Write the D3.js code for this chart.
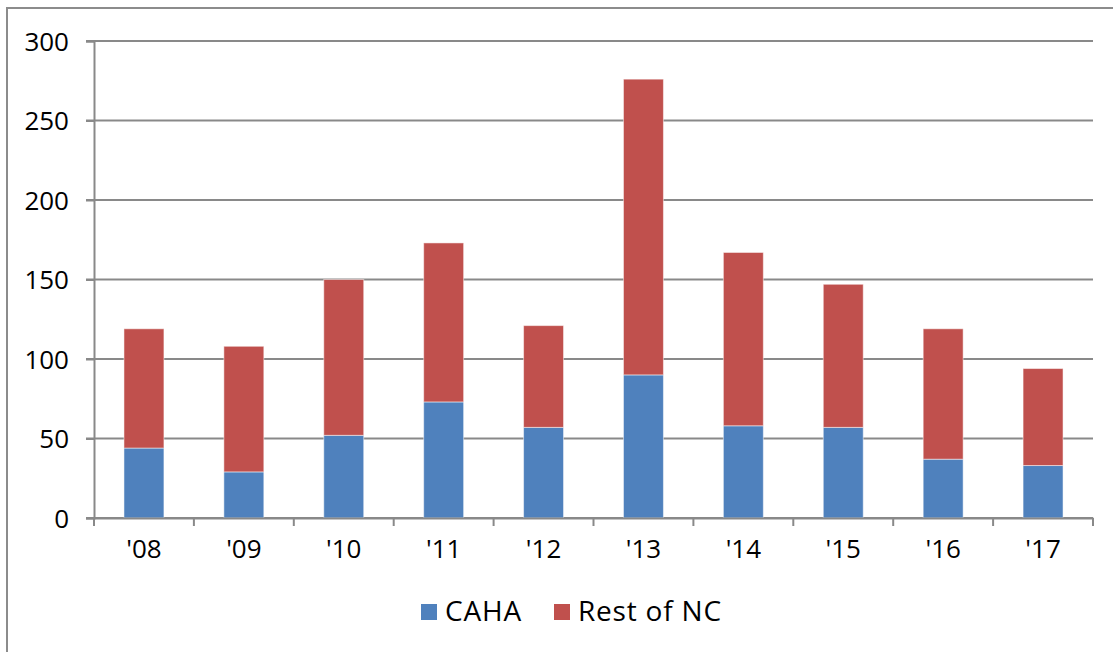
<!DOCTYPE html>
<html>
<head>
<meta charset="utf-8">
<script src="https://cdn.jsdelivr.net/npm/d3@7"></script>
<style>
  body { margin: 0; background: #fff; }
  text { font-family: "Open Sans", sans-serif; fill: #000; }
</style>
</head>
<body>
<div id="chart"></div>
<script>
// data
var years = ["'08", "'09", "'10", "'11", "'12", "'13", "'14", "'15", "'16", "'17"];
var caha = [44, 29, 52, 73, 57, 90, 58, 57, 37, 33];
var total = [119, 108, 150, 173, 121, 276, 167, 147, 119, 94];
var restOfNC = total.map(function (t, i) { return t - caha[i]; });
var yTicks = [0, 50, 100, 150, 200, 250, 300];
var seriesNames = ["CAHA", "Rest of NC"];
var colors = ["#4F81BD", "#C0504D"];

var W = 1113, H = 652;
var margin = { top: 41, right: 20, bottom: 134, left: 94 },
    width = 1093 - margin.left,
    height = 518 - margin.top;

var svg = d3.select("#chart")
    .append("svg")
    .attr("width", W)
    .attr("height", H);

// outer frame
svg.append("rect")
    .attr("x", 7).attr("y", 8)
    .attr("width", W + 10).attr("height", H + 10)
    .attr("fill", "none")
    .attr("stroke", "#8c8c8c")
    .attr("stroke-width", 2);

var g = svg.append("g")
    .attr("transform", "translate(" + margin.left + "," + margin.top + ")");

var x = d3.scaleBand()
    .domain(years)
    .range([0, width])
    .paddingInner(0.6)
    .paddingOuter(0.3);

var y = d3.scaleLinear()
    .domain([0, 300])
    .range([height, 0]);

// gridlines
g.append("g")
    .selectAll("line.grid")
    .data(yTicks)
    .enter()
    .append("line")
    .attr("class", "grid")
    .attr("x1", -8)
    .attr("x2", width)
    .attr("y1", function (d) { return y(d); })
    .attr("y2", function (d) { return y(d); })
    .attr("stroke", "#898989")
    .attr("stroke-width", 2);

// stacked bars
var rows = years.map(function (yr, i) {
    return { year: yr, "CAHA": caha[i], "Rest of NC": restOfNC[i] };
});
var stacked = d3.stack().keys(seriesNames)(rows);

g.append("g")
    .selectAll("g.series")
    .data(stacked)
    .enter()
    .append("g")
    .attr("class", "series")
    .attr("fill", function (d, i) { return colors[i]; })
    .selectAll("rect")
    .data(function (d) { return d; })
    .enter()
    .append("rect")
    .attr("x", function (d) { return x(d.data.year); })
    .attr("y", function (d) { return y(d[1]); })
    .attr("width", x.bandwidth())
    .attr("height", function (d) { return y(d[0]) - y(d[1]); })
    .attr("stroke", "#ffffff")
    .attr("stroke-opacity", 0.5)
    .attr("stroke-width", 1);

// y axis
var yAxis = g.append("g")
    .call(d3.axisLeft(y).tickValues(yTicks).tickSize(8).tickPadding(17));
yAxis.select(".domain").attr("stroke", "#898989").attr("stroke-width", 2);
yAxis.selectAll(".tick line").attr("stroke", "#898989").attr("stroke-width", 2);
yAxis.selectAll("text")
    .style("font-size", "26px")
    .attr("dy", "0.36em");

// x axis
var xAxis = g.append("g")
    .attr("transform", "translate(0," + height + ")")
    .call(d3.axisBottom(x).tickSize(0).tickPadding(22));
xAxis.select(".domain").attr("stroke", "#898989").attr("stroke-width", 2);
xAxis.selectAll("text").style("font-size", "26px");

// category separator ticks
var step = x.step();
xAxis.append("g")
    .selectAll("line")
    .data(d3.range(years.length + 1))
    .enter()
    .append("line")
    .attr("x1", function (d) { return d * step; })
    .attr("x2", function (d) { return d * step; })
    .attr("y1", 0)
    .attr("y2", 8)
    .attr("stroke", "#898989")
    .attr("stroke-width", 2);

// legend
var legend = svg.append("g")
    .attr("transform", "translate(421,604)");
var legX = [0, 133];
seriesNames.forEach(function (name, i) {
    legend.append("rect")
        .attr("x", legX[i]).attr("y", 0)
        .attr("width", 16).attr("height", 16)
        .attr("fill", colors[i]);
    legend.append("text")
        .attr("x", legX[i] + 24)
        .attr("y", 17)
        .style("font-size", "28px")
        .style("letter-spacing", "0.8px")
        .text(name);
});
</script>
</body>
</html>
